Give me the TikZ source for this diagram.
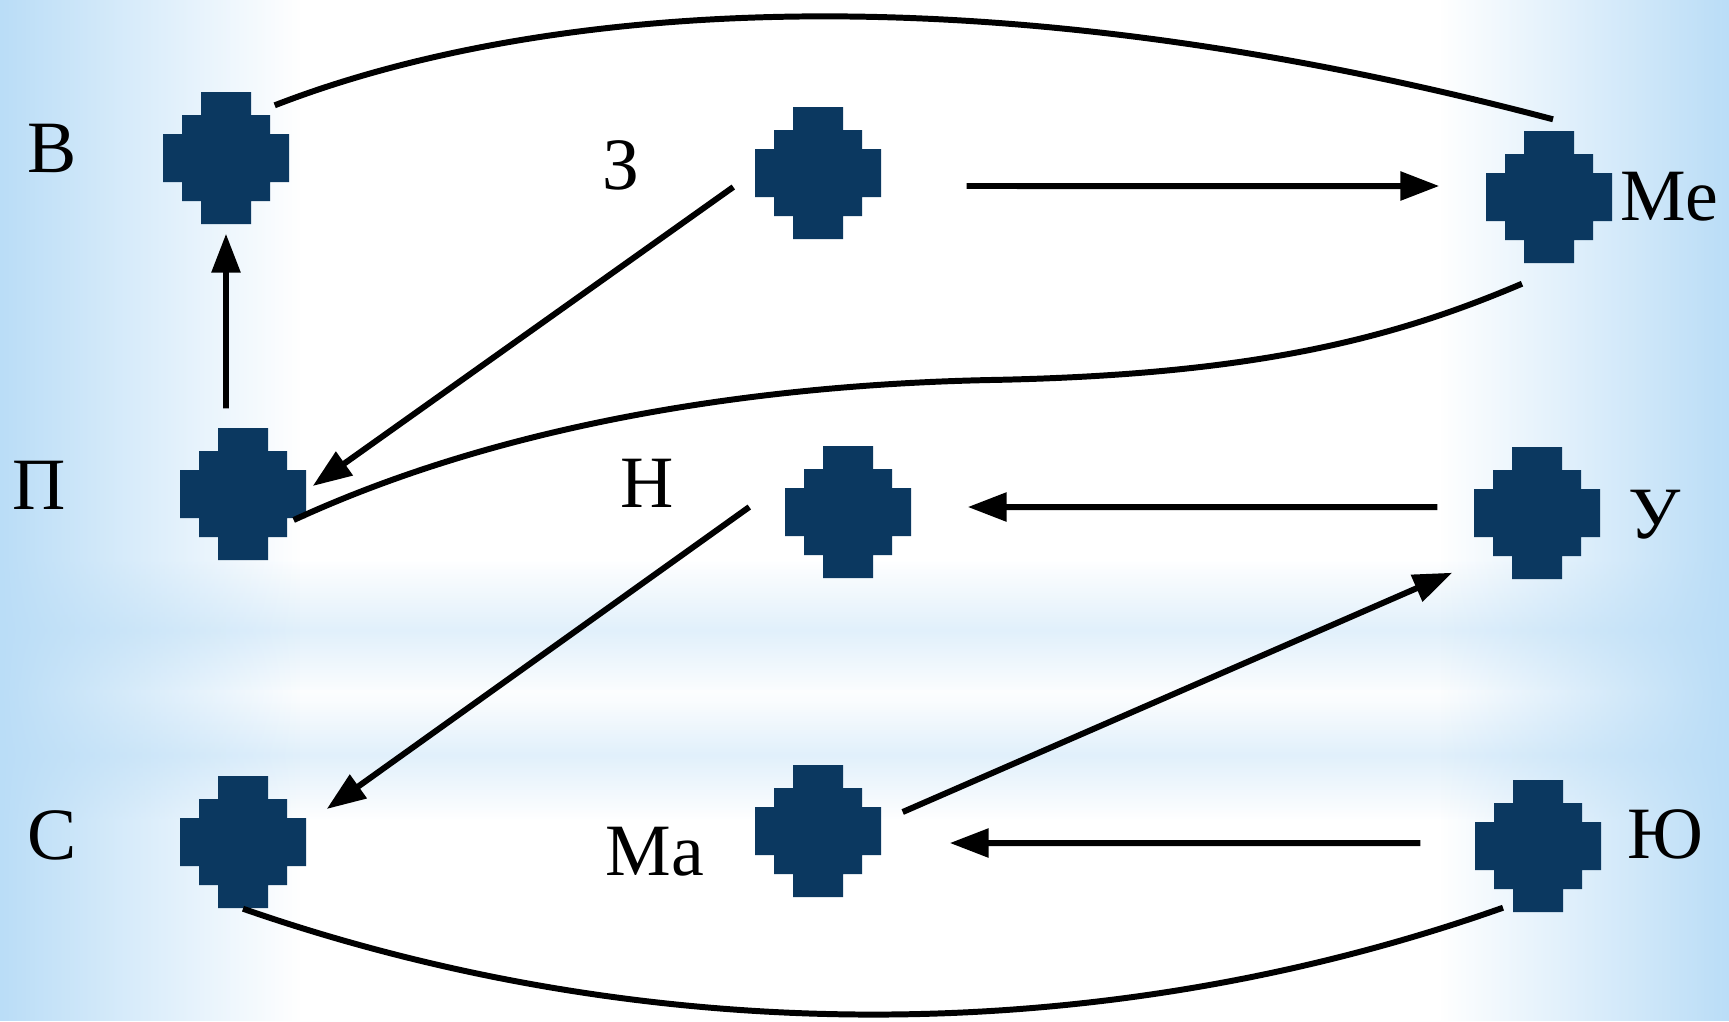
\documentclass[tikz,border=0pt]{standalone}
\usepackage{fontspec}
\setmainfont{Liberation Serif}
\usetikzlibrary{arrows.meta,fadings}
\definecolor{navy}{RGB}{11,56,96}
\definecolor{skyedge}{RGB}{186,221,247}
\definecolor{skyband}{RGB}{196,226,248}
\tikzfading[name=edgeleft,left color=transparent!0,right color=transparent!100]
\tikzfading[name=edgeright,left color=transparent!100,right color=transparent!0]
\tikzset{
  ball/.style={minimum width=1.26cm,minimum height=1.32cm,inner sep=0pt},
  lbl/.style={font=\fontsize{21}{25}\selectfont,anchor=base,inner sep=0pt},
  arr/.style={line width=1.7pt,-{Triangle[length=3.9mm,width=2.8mm]}},
  lnk/.style={line width=1.7pt}
}
\begin{document}
\begin{tikzpicture}
  \useasboundingbox (0,0) rectangle (17.29,-10.21);
  % background
  \fill[white] (0,0) rectangle (17.29,-10.21);
  \shade[top color=white,bottom color=white,middle color=skyband,opacity=0.5] (0,-5.6) rectangle (17.29,-7.0);
  \shade[top color=white,bottom color=white,middle color=skyband,opacity=0.5] (0,-6.9) rectangle (17.29,-8.2);
  \fill[skyedge,path fading=edgeleft] (0,0) rectangle (3.0,-10.21);
  \fill[skyedge,path fading=edgeright] (14.4,0) rectangle (17.29,-10.21);
  % points
  \node[ball] (v) at (2.26,-1.58){};
  \node[ball] (z) at (8.18,-1.73){};
  \node[ball] (me) at (15.49,-1.97){};
  \node[ball] (p) at (2.43,-4.94){};
  \node[ball] (n) at (8.48,-5.12){};
  \node[ball] (u) at (15.37,-5.13){};
  \node[ball] (s) at (2.43,-8.42){};
  \node[ball] (ma) at (8.18,-8.31){};
  \node[ball] (yu) at (15.38,-8.46){};
  \foreach \d in {v,z,me,p,n,u,s,ma,yu}
    \fill[navy,shift={(\d)}]
      (-0.25,0.66) -- (0.25,0.66) -- (0.25,0.43) -- (0.44,0.43)
      -- (0.44,0.24) -- (0.63,0.24) -- (0.63,-0.24) -- (0.44,-0.24) -- (0.44,-0.43)
      -- (0.25,-0.43) -- (0.25,-0.66) -- (-0.25,-0.66) -- (-0.25,-0.43) -- (-0.44,-0.43)
      -- (-0.44,-0.24) -- (-0.63,-0.24) -- (-0.63,0.24) -- (-0.44,0.24) -- (-0.44,0.43)
      -- (-0.25,0.43) -- cycle;
  % labels
  \node[lbl] (lv) at (0.52,-1.72){В};
  \node[lbl] (lz) at (6.21,-1.89){З};
  \node[lbl,anchor=base west] (lme) at (16.20,-2.20){Ме};
  \node[lbl] (lp) at (0.39,-5.09){П};
  \node[lbl] (ln) at (6.47,-5.07){Н};
  \node[lbl] (lu) at (16.55,-5.38){У};
  \node[lbl] (ls) at (0.52,-8.59){С};
  \node[lbl] (lma) at (6.55,-8.75){Ма};
  \node[lbl] (lyu) at (16.65,-8.58){Ю};
  % arrows
  \draw[arr] ([xshift=8.5mm,yshift=-1.3mm]z.east) -- ([xshift=-4.6mm,yshift=1.1mm]me.west);
  \draw[arr] ([xshift=-2.1mm,yshift=-1.4mm]z.west) -- ([xshift=0.6mm,yshift=0.8mm]p.east);
  \draw[arr] ([xshift=-1.7mm,yshift=1.9mm]p.north) -- ([yshift=-0.9mm]v.south);
  \draw[arr] ([xshift=-3.6mm,yshift=0.6mm]u.west) -- ([xshift=5.6mm,yshift=0.5mm]n.east);
  \draw[arr] ([xshift=-3.5mm,yshift=0.5mm]n.west) -- ([xshift=2.0mm,yshift=3.3mm]s.east);
  \draw[arr] ([xshift=2.1mm,yshift=1.9mm]ma.east) -- ([xshift=-2.1mm,yshift=0.7mm]u.south west);
  \draw[arr] ([xshift=-5.4mm,yshift=0.3mm]yu.west) -- ([xshift=6.8mm,yshift=-1.2mm]ma.east);
  % curves
  \draw[lnk] ([xshift=-1.5mm,yshift=-1.4mm]v.north east) .. controls (5.2,-0.1) and (9.5,0.4) .. ([xshift=0.4mm,yshift=1.1mm]me.north);
  \draw[lnk] ([xshift=-2.7mm,yshift=-2.0mm]me.south) .. controls (13.9,-3.4) and (12.5,-3.75) .. (9.9,-3.8)
    .. controls (7.5,-3.85) and (5.0,-4.25) .. ([xshift=-1.3mm,yshift=-2.6mm]p.east);
  \draw[lnk] (s.south) .. controls (6.5,-10.5) and (11.0,-10.5) .. ([xshift=-3.5mm,yshift=0.5mm]yu.south);
\end{tikzpicture}
\end{document}
